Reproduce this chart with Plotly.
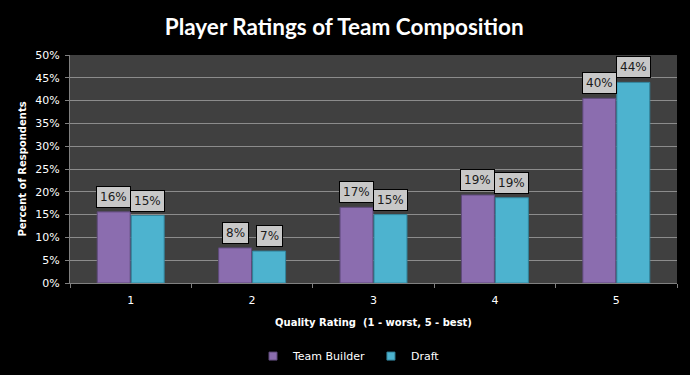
import plotly.graph_objects as go

categories = ["1", "2", "3", "4", "5"]
team_builder = [0.156, 0.077, 0.166, 0.193, 0.405]
draft = [0.148, 0.070, 0.150, 0.187, 0.440]
series_names = ["Team Builder", "Draft"]
y_ticks = [0, 0.05, 0.10, 0.15, 0.20, 0.25, 0.30, 0.35, 0.40, 0.45, 0.50]

colors = ["#8B6DAF", "#4DB3CF"]
edge = ["#5E4A7A", "#32849C"]

fig = go.Figure()
for name, vals, c, e in zip(series_names, [team_builder, draft], colors, edge):
    fig.add_trace(go.Bar(
        name=name, x=categories, y=vals,
        marker=dict(color=c, line=dict(color=e, width=1)),
        hoverinfo="skip", showlegend=False,
    ))
# legend entries with small square swatches
for name, c, e in zip(series_names, colors, edge):
    fig.add_trace(go.Scatter(
        name=name, x=[None], y=[None], mode="markers",
        marker=dict(symbol="square", size=8, color=c, line=dict(color=e, width=1)),
        showlegend=True,
    ))

annotations = []
for vals, shift in [(team_builder, -17), (draft, 17)]:
    for idx, v in enumerate(vals):
        annotations.append(dict(
            x=idx, y=v, xref="x", yref="y", xshift=shift, yshift=15,
            text=f"{round(v * 100)}%", showarrow=False,
            font=dict(family="DejaVu Sans", size=12, color="#1a1a1a"),
            bgcolor="#C8C8C8", bordercolor="#000000", borderwidth=1, borderpad=3,
        ))

fig.update_layout(
    width=682, height=367,
    paper_bgcolor="#000000", plot_bgcolor="#404040",
    margin=dict(l=62, r=13, t=47, b=92),
    barmode="group", bargap=0.44, bargroupgap=0.03,
    title=dict(text="<b>Player Ratings of Team Composition</b>", x=0.493, xanchor="center",
               xref="container", y=0.948, yanchor="middle",
               font=dict(family="Lato", size=22.5, color="#FFFFFF")),
    xaxis=dict(
        title=dict(text="<b>Quality Rating  (1 - worst, 5 - best)</b>", standoff=12,
                   font=dict(family="DejaVu Sans", size=10, color="#FFFFFF")),
        tickfont=dict(family="DejaVu Sans", size=11, color="#FFFFFF"),
        showgrid=False, showline=True, linecolor="#808080", linewidth=1,
        ticks="outside", tickson="boundaries", ticklen=4, tickcolor="#808080",
        ticklabelstandoff=7,
        automargin=False, fixedrange=True,
    ),
    yaxis=dict(
        title=dict(text="<b>Percent of Respondents</b>", standoff=6,
                   font=dict(family="DejaVu Sans", size=10, color="#FFFFFF")),
        tickfont=dict(family="DejaVu Sans", size=11, color="#FFFFFF"),
        tickvals=y_ticks, tickformat=".0%", range=[0, 0.5],
        showgrid=True, gridcolor="#8C8C8C", gridwidth=1,
        showline=True, linecolor="#808080", linewidth=1,
        ticks="outside", ticklen=4, tickcolor="#808080", zeroline=False,
        ticklabelstandoff=3,
        automargin=False, fixedrange=True,
    ),
    legend=dict(orientation="h", x=0.5, xanchor="center", xref="container",
                y=0.012, yanchor="bottom", yref="container",
                font=dict(family="DejaVu Sans", size=11, color="#FFFFFF"),
                itemwidth=30, bgcolor="rgba(0,0,0,0)"),
    annotations=annotations,
    showlegend=True,
)

fig.write_html("out.html", post_script="document.body.style.background='#000000';")
